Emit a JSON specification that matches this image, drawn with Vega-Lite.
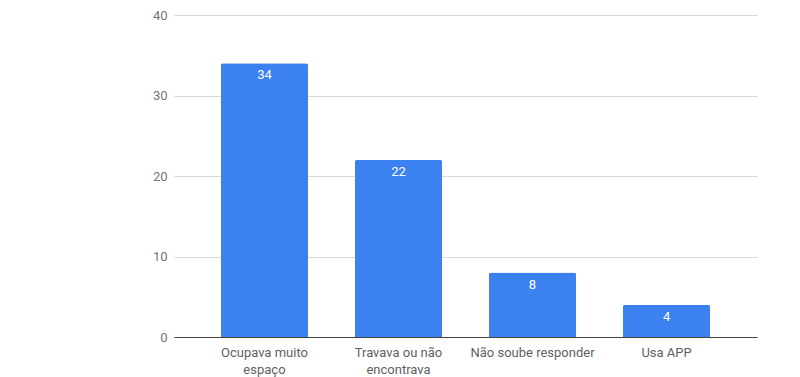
{
  "$schema": "https://vega.github.io/schema/vega-lite/v6.json",
  "width": 583,
  "height": 322,
  "autosize": "none",
  "padding": {"left": 174, "top": 15, "right": 43, "bottom": 40},
  "background": "white",
  "config": {"view": {"stroke": null}, "font": "Roboto"},
  "data": {
    "values": [
      {"motivo": "Ocupava muito espaço", "total": 34},
      {"motivo": "Travava ou não encontrava", "total": 22},
      {"motivo": "Não soube responder", "total": 8},
      {"motivo": "Usa APP", "total": 4}
    ]
  },
  "encoding": {
    "x": {
      "field": "motivo",
      "type": "nominal",
      "sort": null,
      "scale": {"paddingInner": 0.35, "paddingOuter": 0.35},
      "axis": {
        "title": null,
        "labelAngle": 0,
        "labelFont": "Roboto",
        "labelFontSize": 13,
        "labelColor": "#5f5f5f",
        "labelPadding": 9,
        "labelLineHeight": 17,
        "labelBaseline": "top",
        "labelExpr": "datum.value == 'Ocupava muito espaço' ? ['Ocupava muito', 'espaço'] : datum.value == 'Travava ou não encontrava' ? ['Travava ou não', 'encontrava'] : datum.value",
        "ticks": false,
        "domain": true,
        "domainColor": "#444444",
        "domainWidth": 1,
        "labelLimit": 0
      }
    },
    "y": {
      "field": "total",
      "type": "quantitative",
      "scale": {"domain": [0, 40], "nice": false},
      "axis": {
        "title": null,
        "values": [0, 10, 20, 30, 40],
        "labelFont": "Roboto",
        "labelFontSize": 13,
        "labelColor": "#757575",
        "labelPadding": 7,
        "ticks": false,
        "domain": false,
        "grid": true,
        "gridColor": "#d9d9d9",
        "gridWidth": 1
      }
    }
  },
  "layer": [
    {
      "mark": {"type": "bar", "color": "#3b82f0", "cornerRadiusTopLeft": 2, "cornerRadiusTopRight": 2}
    },
    {
      "mark": {"type": "text", "color": "white", "font": "Roboto", "fontSize": 13, "baseline": "middle", "dy": 12},
      "encoding": {"text": {"field": "total", "type": "quantitative"}}
    }
  ]
}
